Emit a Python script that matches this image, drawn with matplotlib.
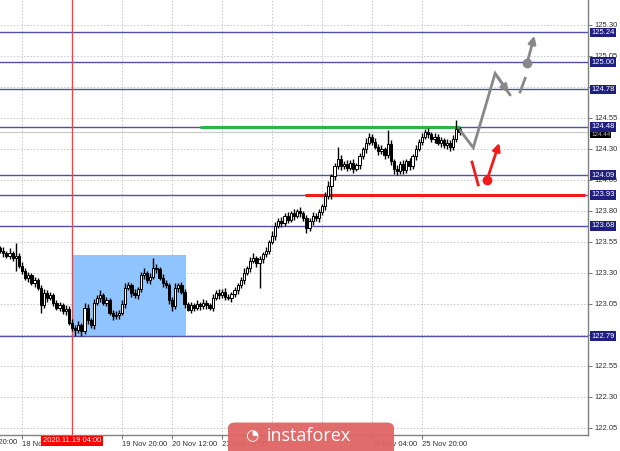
import matplotlib
matplotlib.use("Agg")
import matplotlib.pyplot as plt
import matplotlib.transforms as mtransforms
from matplotlib.patches import Rectangle, FancyBboxPatch

# H1 closes (one per bar)
closes = [
    123.48, 123.46, 123.44, 123.46, 123.42, 123.44, 123.36, 123.32, 123.26, 123.28,
    123.22, 123.24, 123.18, 123.04, 123.14, 123.10, 123.12, 123.06, 123.02, 123.04,
    122.99, 123.01, 122.90, 122.86, 122.84, 122.88, 122.83, 123.02, 122.92, 122.88,
    123.06, 123.10, 123.12, 123.06, 123.08, 122.98, 122.95, 122.96, 122.98, 123.05,
    123.18, 123.20, 123.14, 123.12, 123.17, 123.28, 123.30, 123.24, 123.27, 123.34,
    123.33, 123.26, 123.22, 123.20, 123.08, 123.03, 123.18, 123.20, 123.15, 123.05,
    123.00, 123.04, 123.02, 123.05, 123.03, 123.06, 123.04, 123.02, 123.10, 123.14,
    123.12, 123.15, 123.11, 123.10, 123.13, 123.16, 123.20, 123.24, 123.30, 123.34,
    123.40, 123.42, 123.38, 123.41, 123.45, 123.48, 123.55, 123.60, 123.68, 123.72,
    123.70, 123.76, 123.73, 123.78, 123.76, 123.80, 123.78, 123.74, 123.66, 123.72,
    123.76, 123.74, 123.79, 123.84, 123.92, 124.00, 124.08, 124.16, 124.22, 124.16,
    124.18, 124.15, 124.19, 124.14, 124.17, 124.24, 124.30, 124.35, 124.40, 124.36,
    124.32, 124.28, 124.30, 124.25, 124.34, 124.20, 124.14, 124.12, 124.18, 124.13,
    124.20, 124.16, 124.24, 124.30, 124.36, 124.40, 124.44, 124.42, 124.38, 124.40,
    124.35, 124.37, 124.33, 124.35, 124.32, 124.38, 124.46, 124.44,
]
first_open = 123.50

# wick lengths above / below the body
wick_up = [
    0.02, 0.03, 0.02, 0.04, 0.02, 0.10, 0.02, 0.03, 0.02, 0.03,
    0.02, 0.03, 0.02, 0.02, 0.03, 0.02, 0.03, 0.02, 0.02, 0.03,
    0.02, 0.03, 0.02, 0.03, 0.02, 0.03, 0.02, 0.04, 0.03, 0.02,
    0.03, 0.02, 0.04, 0.02, 0.03, 0.02, 0.02, 0.03, 0.02, 0.03,
    0.04, 0.03, 0.02, 0.03, 0.02, 0.03, 0.04, 0.02, 0.03, 0.08,
    0.03, 0.02, 0.03, 0.02, 0.02, 0.03, 0.04, 0.02, 0.03, 0.02,
    0.02, 0.03, 0.02, 0.03, 0.02, 0.03, 0.02, 0.02, 0.03, 0.02,
    0.03, 0.02, 0.03, 0.02, 0.02, 0.03, 0.02, 0.03, 0.04, 0.02,
    0.03, 0.04, 0.02, 0.03, 0.02, 0.03, 0.02, 0.04, 0.03, 0.02,
    0.03, 0.02, 0.03, 0.02, 0.04, 0.02, 0.03, 0.02, 0.03, 0.02,
    0.03, 0.02, 0.03, 0.02, 0.03, 0.04, 0.02, 0.03, 0.10, 0.03,
    0.02, 0.03, 0.02, 0.03, 0.02, 0.03, 0.02, 0.04, 0.03, 0.02,
    0.03, 0.02, 0.03, 0.02, 0.11, 0.03, 0.02, 0.03, 0.02, 0.03,
    0.02, 0.03, 0.02, 0.03, 0.02, 0.03, 0.02, 0.03, 0.02, 0.03,
    0.02, 0.03, 0.02, 0.03, 0.02, 0.03, 0.07, 0.02,
]
wick_dn = [
    0.02, 0.03, 0.02, 0.03, 0.02, 0.10, 0.02, 0.03, 0.02, 0.03,
    0.02, 0.03, 0.02, 0.06, 0.02, 0.03, 0.02, 0.03, 0.02, 0.03,
    0.02, 0.03, 0.02, 0.03, 0.05, 0.02, 0.04, 0.02, 0.03, 0.02,
    0.03, 0.02, 0.03, 0.02, 0.03, 0.02, 0.03, 0.02, 0.03, 0.02,
    0.03, 0.02, 0.03, 0.02, 0.03, 0.02, 0.03, 0.02, 0.03, 0.02,
    0.03, 0.02, 0.03, 0.02, 0.03, 0.04, 0.02, 0.03, 0.02, 0.03,
    0.01, 0.02, 0.03, 0.02, 0.03, 0.02, 0.03, 0.02, 0.03, 0.02,
    0.03, 0.02, 0.03, 0.02, 0.03, 0.02, 0.03, 0.02, 0.03, 0.02,
    0.03, 0.02, 0.03, 0.20, 0.03, 0.02, 0.03, 0.02, 0.03, 0.02,
    0.03, 0.02, 0.03, 0.02, 0.03, 0.02, 0.03, 0.02, 0.04, 0.02,
    0.03, 0.02, 0.03, 0.02, 0.03, 0.02, 0.10, 0.03, 0.02, 0.03,
    0.02, 0.03, 0.02, 0.03, 0.02, 0.03, 0.02, 0.03, 0.02, 0.03,
    0.02, 0.03, 0.02, 0.03, 0.02, 0.03, 0.04, 0.03, 0.02, 0.03,
    0.02, 0.03, 0.02, 0.03, 0.02, 0.03, 0.02, 0.03, 0.02, 0.03,
    0.02, 0.03, 0.02, 0.03, 0.04, 0.03, 0.02, 0.03,
]

# levels
levels = [125.24, 125.00, 124.78, 124.48, 124.09, 123.93, 123.68, 122.79]
level_labels = ["125.24", "125.00", "124.78", "124.48", "124.09", "123.93", "123.68", "122.79"]
bid = 124.44
green_level, green_from, green_to = 124.48, 64, 147
red_level, red_from, red_to = 123.93, 97.6, 187

# highlighted range box and marker line
box_from, box_to = 23, 59.5
box_low, box_high = 122.79, 123.445
marker_bar = 23
marker_label = "2020.11.19 04:00"

# axes ticks (labels hidden under the level boxes are left blank)
price_ticks = [122.05, 122.30, 122.55, 122.80, 123.05, 123.30, 123.55, 123.80,
               124.05, 124.30, 124.55, 124.80, 125.05, 125.30]
price_labels = ["122.05", "122.30", "122.55", "", "123.05", "123.30", "123.55", "123.80",
                "124.05", "124.30", "124.55", "", "125.05", "125.30"]
first_time_tick, first_time_label = -9, "17 Nov 20:00"
time_ticks = [7, 23, 39, 55, 71, 87, 103, 119, 135]
time_labels = ["18 Nov 12:00", "", "19 Nov 20:00",
               "20 Nov 12:00", "23 Nov 04:00", "", "",
               "25 Nov 04:00", "25 Nov 20:00"]

# forecast sketch (bar index, price)
gray_path_x = [147.2, 151.4, 158.4]
gray_path_y = [124.45, 124.31, 124.91]
gray_head = (163.2, 124.735)
gray_dash_x = [166.4, 168.0]
gray_dash_y = [124.76, 124.87]
gray_dot = (168.6, 124.99)
gray_tip = (171.2, 125.235)
red_stroke_x = [151.0, 153.0]
red_stroke_y = [124.195, 124.01]
red_dot = (155.8, 124.05)
red_tip = (160.0, 124.37)

W, H = 620, 451
plt.rcParams["font.family"] = ["Liberation Sans", "DejaVu Sans"]
fig = plt.figure(figsize=(W / 100, H / 100), dpi=100)
fig.patch.set_facecolor("white")
ax = fig.add_axes([0, 16 / H, 588 / W, 435 / H])

# grid
for p in price_ticks:
    ax.axhline(p, color="#c4c4c4", lw=0.6, ls=(0, (2, 2)), zorder=0)
for t in [first_time_tick] + time_ticks:
    ax.axvline(t, color="#c4c4c4", lw=0.6, ls=(0, (2, 2)), zorder=0)

ax.add_patch(Rectangle((box_from, box_low), box_to - box_from, box_high - box_low,
                       facecolor="#8fc4ff", edgecolor="none", zorder=1))

for lv in levels:
    ax.axhline(lv, color="#5050a4", lw=1.0, zorder=2)
ax.axhline(bid, color="#c8c8c8", lw=0.8, zorder=2)
ax.axvline(marker_bar, color="#ff3b3b", lw=1.0, zorder=2)

ax.hlines(green_level, green_from, green_to, color="#2db34a", lw=2.2, zorder=3)
ax.hlines(red_level, red_from, red_to, color="#ee1c1c", lw=2.2, zorder=3)

# candles
opens = [first_open] + closes[:-1]
for i, (o, c) in enumerate(zip(opens, closes)):
    top, bot = max(o, c), min(o, c)
    ax.vlines(i, bot - wick_dn[i], top + wick_up[i], color="black", lw=1.0, zorder=4)
    face = "white" if c >= o else "black"
    ax.bar(i, max(top - bot, 0.006), bottom=bot, width=0.72, color=face,
           edgecolor="black", linewidth=0.7, zorder=5)

# forecast arrows
gray = "#888888"
ax.plot(gray_path_x + [gray_head[0]], gray_path_y + [gray_head[1]], color=gray,
        lw=2.0, solid_capstyle="round", solid_joinstyle="miter", zorder=6)
ax.annotate("", xy=gray_head, xytext=(gray_path_x[-1], gray_path_y[-1]),
            arrowprops=dict(arrowstyle="-|>", color=gray, lw=2.0, mutation_scale=11),
            zorder=6)
ax.plot(gray_dash_x, gray_dash_y, color=gray, lw=2.0, zorder=6)
ax.plot(*gray_dot, "o", color=gray, ms=6, zorder=7)
ax.annotate("", xy=gray_tip, xytext=gray_dot,
            arrowprops=dict(arrowstyle="-|>", color=gray, lw=2.0, mutation_scale=11),
            zorder=6)

red = "#f01c1c"
ax.plot(red_stroke_x, red_stroke_y, color=red, lw=2.0, zorder=6)
ax.plot(*red_dot, "o", color=red, ms=6, zorder=7)
ax.annotate("", xy=red_tip, xytext=red_dot,
            arrowprops=dict(arrowstyle="-|>", color=red, lw=2.0, mutation_scale=11),
            zorder=6)

# spines / ticks
for s in ["top", "left"]:
    ax.spines[s].set_visible(False)
for s in ["bottom", "right"]:
    ax.spines[s].set_color("#808080")
    ax.spines[s].set_linewidth(1.0)

ax.yaxis.tick_right()
ax.set_yticks(price_ticks)
ax.set_yticklabels(price_labels)
ax.tick_params(axis="y", direction="out", length=3, width=0.6, color="#606060",
               labelsize=5.5, labelcolor="#303030", pad=1.5)
ax.set_xticks(time_ticks)
ax.set_xticklabels(time_labels, ha="left")
ax.tick_params(axis="x", direction="out", length=3, width=0.6, color="#606060",
               labelsize=5.5, labelcolor="#303030", pad=1.0)

# limits last, set_xticks would widen them
ax.set_xlim(-0.04, 188.12)
ax.set_ylim(121.9935, 125.5016)

xtr = mtransforms.blended_transform_factory(ax.transData, ax.transAxes)
# first time label starts left of the chart and is cut by the edge
ax.text(first_time_tick, -4 / 435, first_time_label, transform=xtr, fontsize=5.5,
        color="#303030", ha="left", va="top", clip_on=False)

# level boxes on the price scale
ytr = mtransforms.blended_transform_factory(ax.transAxes, ax.transData)
for lv, lb in zip(levels, level_labels):
    ax.text(1.0 + 3 / 588, lv, lb, transform=ytr, fontsize=5.5, color="white",
            va="center", ha="left", zorder=10, clip_on=False,
            bbox=dict(boxstyle="square,pad=0.18", fc="#1f1f7e", ec="none"))
ax.text(1.0 + 3 / 588, bid - 0.025, f"{bid:.2f}", transform=ytr, fontsize=4.5,
        color="#bdbdbd", va="center", ha="left", zorder=9, clip_on=False,
        bbox=dict(boxstyle="square,pad=0.15", fc="black", ec="none"))

# marker date on the time scale
ax.text(marker_bar, -6 / 435, marker_label, transform=xtr, fontsize=5.5,
        color="white", ha="center", va="center", zorder=10, clip_on=False,
        bbox=dict(boxstyle="square,pad=0.2", fc="#ff0000", ec="none"))

# watermark
fig.patches.append(FancyBboxPatch((228 / W, -0.03), 166 / W, 42 / H,
                                  boxstyle="round,pad=0,rounding_size=0.012",
                                  transform=fig.transFigure, fc="#e06464",
                                  ec="none", alpha=0.95, zorder=20))
fig.text(252 / W, 15 / H, "\u25d4", color="white", fontsize=11,
         family=["DejaVu Sans"], ha="center", va="center", zorder=21)
fig.text(309 / W, 15 / H, "instaforex", color="white", fontsize=13,
         family=["Open Sans", "DejaVu Sans"], ha="center", va="center", zorder=21)

fig.savefig("out.png", dpi=100)
